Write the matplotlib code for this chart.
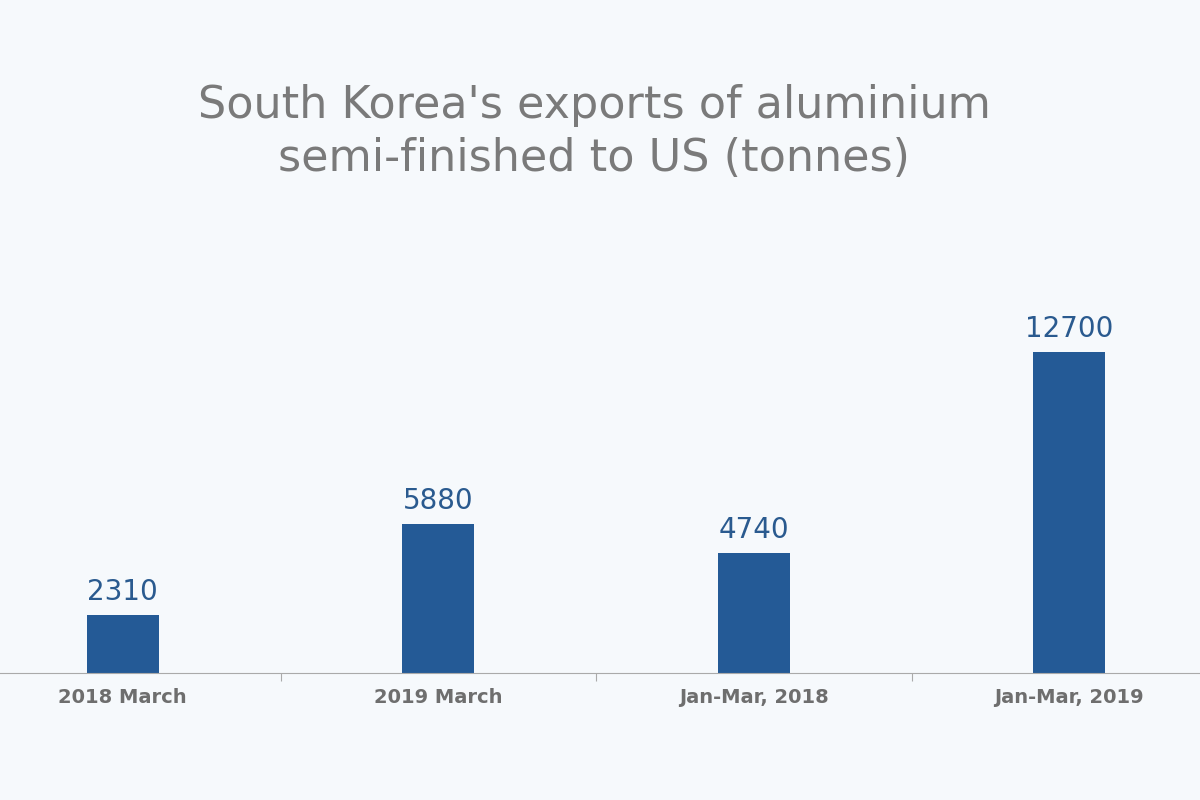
import matplotlib
matplotlib.use("Agg")
import matplotlib.pyplot as plt

categories = ["2018 March", "2019 March", "Jan-Mar, 2018", "Jan-Mar, 2019"]
values = [2310, 5880, 4740, 12700]

bg = "#f6f9fc"
fig = plt.figure(figsize=(12, 8), dpi=100, facecolor=bg)
ax = fig.add_axes([-35/1200, 1-673/800, 1262/1200, 354/800])
ax.set_facecolor(bg)
x = range(len(categories))
ax.bar(x, values, width=0.228, color="#245a96")
for xi, v in zip(x, values):
    ax.text(xi, v + 350, str(v), ha="center", va="bottom", fontsize=20,
            color="#2a5a8f")
ax.set_xlim(-0.5, 3.5)
ax.set_ylim(0, 14000)
ax.set_yticks([])
for s in ["top", "right", "left"]:
    ax.spines[s].set_visible(False)
ax.spines["bottom"].set_color("#aaaaaa")
ax.set_xticks([0.5, 1.5, 2.5])
ax.set_xticklabels([])
ax.tick_params(axis="x", length=6, color="#aaaaaa")
for xi, c in zip(x, categories):
    ax.text(xi, -600, c, ha="center", va="top", fontsize=14, fontweight="bold",
            color="#6e6e6e", fontstretch="expanded")
fig.text(0.495, 0.835, "South Korea's exports of aluminium\nsemi-finished to US (tonnes)",
         ha="center", va="center", fontsize=32, color="#7a7a7a", linespacing=1.3)
fig.savefig("out.png", facecolor=bg)
